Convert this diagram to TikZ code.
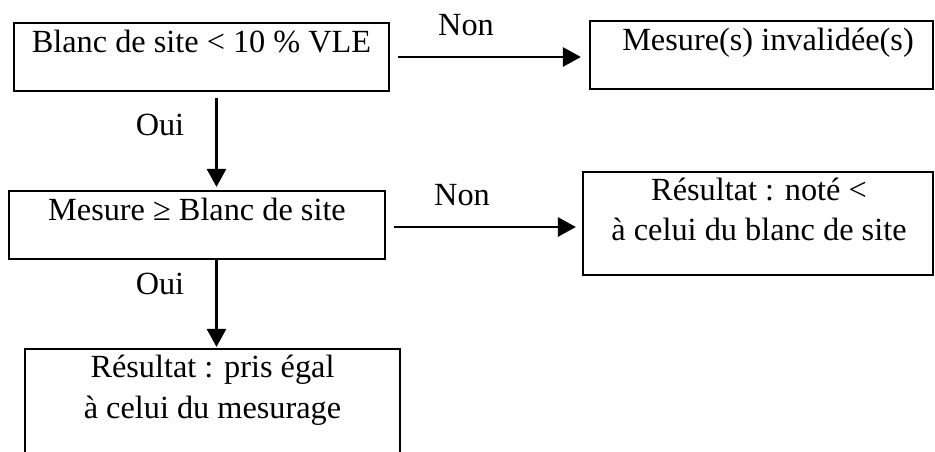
\documentclass[tikz,border=0pt]{standalone}
\usepackage{fontspec}
\setmainfont{Liberation Serif}
\usetikzlibrary{arrows.meta}

\begin{document}
\begin{tikzpicture}[x=1pt, y=-1pt,
            boite/.style={draw, line width=2.2pt, inner sep=0pt},
            texte/.style={font=\fontsize{32.3}{40.5}\selectfont, inner sep=0pt, align=center},
            fleche/.style={-{Triangle[length=18pt, width=19pt]}, line width=2.8pt}]
            % image frame
            \clip (0,0) rectangle (935,451);

            % boxes
            \node [boite, minimum width=375pt, minimum height=68pt] (blanc) at (201.5,57) {};
            \node [boite, minimum width=343pt, minimum height=68pt] (invalide) at (761.5,55) {};
            \node [boite, minimum width=376pt, minimum height=68pt] (mesure) at (197,225) {};
            \node [boite, minimum width=350pt, minimum height=103pt] (note) at (758,223.5) {};
            \node [boite, minimum width=375pt, minimum height=140pt] (egal) at (212.5,419) {};

            % texts in the boxes (base = last line)
            \node [texte, anchor=base] (tblanc) at ([yshift=-30.5pt]blanc.north) {Blanc de site < 10 \% VLE};
            \node [texte, anchor=base] (tinvalide) at ([xshift=6.5pt, yshift=-30.5pt]invalide.north) {Mesure(s) invalidée(s)};
            \node [texte, anchor=base] (tmesure) at ([yshift=-30.5pt]mesure.north) {Mesure ≥ Blanc de site};
            \node [texte, anchor=base] (tnote) at ([xshift=1pt, yshift=-70pt]note.north) {Résultat : noté <\\ à celui du blanc de site};
            \node [texte, anchor=base] (tegal) at ([yshift=-70.5pt]egal.north) {Résultat : pris égal\\ à celui du mesurage};

            % arrows
            \draw [fleche, shorten >=8pt] ([xshift=8pt]blanc.east) -- (blanc.east -| invalide.west);
            \coordinate (depnon) at ([yshift=-2pt]mesure.east);
            \draw [fleche, shorten <=8pt, shorten >=6pt] (depnon) -- (depnon -| note.west);
            \coordinate (depoui) at ([xshift=15pt]blanc.south);
            \draw [fleche, shorten <=6pt, shorten >=3pt] (depoui) -- (depoui |- mesure.north);
            \coordinate (depoui2) at ([xshift=19.5pt]mesure.south);
            \draw [fleche, shorten >=1pt] (depoui2) -- (depoui2 |- egal.north);

            % labels of the arrows
            \node [texte, anchor=base] (non1) at (466,35) {Non};
            \node [texte, anchor=base] (non2) at (462,205) {Non};
            \node [texte, anchor=base] (oui1) at (160,135.5) {Oui};
            \node [texte, anchor=base] (oui2) at (160,294.5) {Oui};
\end{tikzpicture}
\end{document}
